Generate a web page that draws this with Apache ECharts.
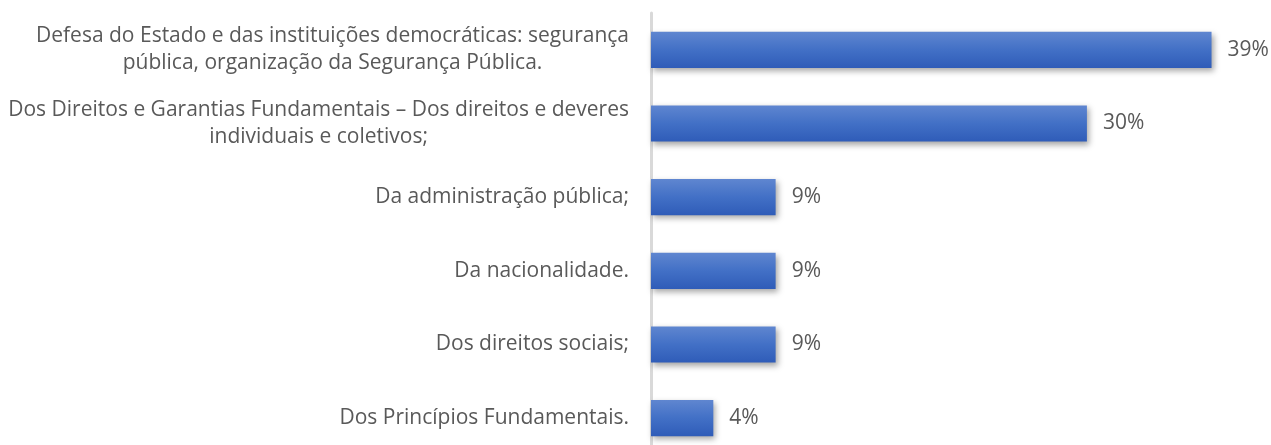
<!DOCTYPE html>
<html>
<head>
<meta charset="utf-8">
<script src="https://cdn.jsdelivr.net/npm/echarts@6/dist/echarts.min.js"></script>
<style>
  html, body { margin: 0; padding: 0; background: #fff; }
  #chart { width: 1271px; height: 445px; }
</style>
</head>
<body>
<div id="chart"></div>
<script>
const categories = [
  'Defesa do Estado e das instituições democráticas: segurança\npública, organização da Segurança Pública.',
  'Dos Direitos e Garantias Fundamentais – Dos direitos e deveres\nindividuais e coletivos;',
  'Da administração pública;',
  'Da nacionalidade.',
  'Dos direitos sociais;',
  'Dos Princípios Fundamentais.'
];
const shares = [39.13, 30.43, 8.70, 8.70, 8.70, 4.35];

const chart = echarts.init(document.getElementById('chart'));

const barColor = new echarts.graphic.LinearGradient(0, 0, 0, 1, [
  { offset: 0, color: '#5f86d0' },
  { offset: 0.5, color: '#4270c6' },
  { offset: 1, color: '#2f5cb8' }
]);

// centre each line of a wrapped category label, like the original chart
const centreLines = v => v.split('\n').map(l => '{c|' + l + '}').join('\n');

chart.setOption({
  animation: false,
  grid: { left: 651, right: 47, top: 13, height: 442, outerBoundsMode: 'none' },
  xAxis: {
    type: 'value',
    min: 0,
    max: 40,
    show: false
  },
  yAxis: {
    type: 'category',
    inverse: true,
    data: categories,
    axisLine: { show: true, lineStyle: { color: '#d9d9d9', width: 3 } },
    axisTick: { show: false },
    axisLabel: {
      margin: 22,
      align: 'right',
      formatter: centreLines,
      rich: {
        c: {
          align: 'center',
          color: '#595959',
          fontFamily: 'Open Sans',
          fontSize: 21,
          lineHeight: 27
        }
      }
    }
  },
  series: [{
    type: 'bar',
    data: shares,
    barWidth: '49%',
    itemStyle: {
      color: barColor,
      shadowColor: 'rgba(0,0,0,0.35)',
      shadowBlur: 6,
      shadowOffsetX: 2,
      shadowOffsetY: 3
    },
    label: {
      show: true,
      position: 'right',
      distance: 16,
      color: '#595959',
      fontFamily: 'Open Sans',
      fontSize: 21,
      formatter: p => Math.round(p.value) + '%'
    }
  }]
});
</script>
</body>
</html>
